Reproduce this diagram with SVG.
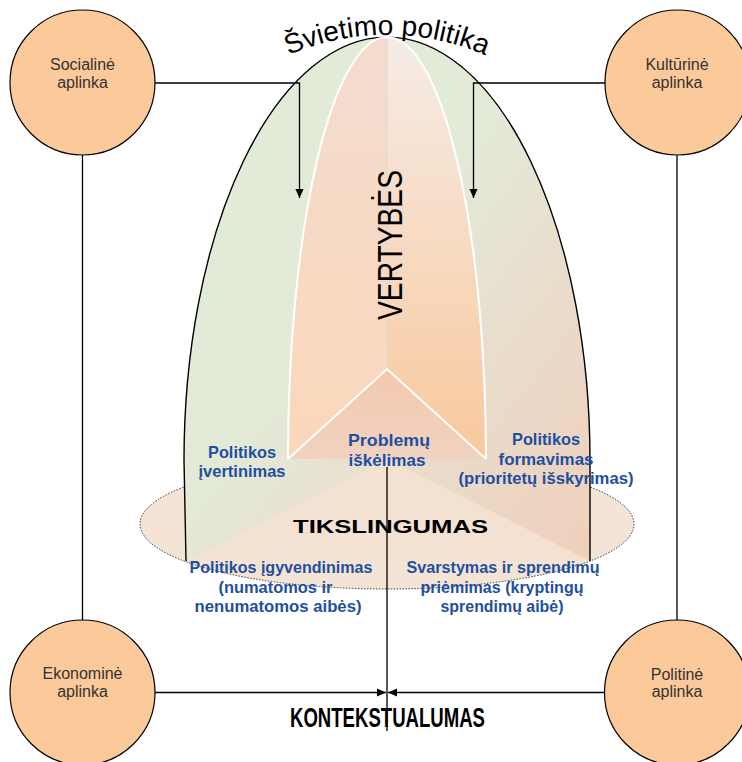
<svg xmlns="http://www.w3.org/2000/svg" width="742" height="762" viewBox="0 0 742 762">
  <style>
    .env { fill: #fbc99a; stroke: #000; stroke-width: 1.2; }
    .envText { font-family: "Liberation Sans", Arial, sans-serif; font-size: 16px; fill: #333; text-anchor: middle; }
    .link { fill: none; stroke: #000; stroke-width: 1.3; }
    .blue { font-family: "Liberation Sans", Arial, sans-serif; font-weight: bold; font-size: 16.5px; fill: #1f4f9f; text-anchor: middle; }
    .big { font-family: "Liberation Sans Narrow", "Liberation Sans", Arial, sans-serif; fill: #000; text-anchor: middle; }
  </style>
  <defs>
    <linearGradient id="outerFill" x1="0" y1="0" x2="1" y2="1">
      <stop offset="0" stop-color="#e0ecd8"/>
      <stop offset="0.45" stop-color="#e3eAd8"/>
      <stop offset="0.72" stop-color="#eadbca"/>
      <stop offset="1" stop-color="#f0cfbc"/>
    </linearGradient>
    <linearGradient id="leftFill" x1="0" y1="0" x2="0" y2="1">
      <stop offset="0" stop-color="#f3dccf"/>
      <stop offset="1" stop-color="#fbd7b9"/>
    </linearGradient>
    <linearGradient id="rightFill" x1="0" y1="0" x2="0" y2="1">
      <stop offset="0" stop-color="#f6ece6"/>
      <stop offset="1" stop-color="#f9c89d"/>
    </linearGradient>
    <linearGradient id="triFill" x1="0" y1="0" x2="0" y2="1">
      <stop offset="0" stop-color="#f3c9ae"/>
      <stop offset="1" stop-color="#f1d2c0"/>
    </linearGradient>
    <marker id="arrow" markerUnits="userSpaceOnUse" viewBox="0 0 10 10" markerWidth="9" markerHeight="9" refX="10" refY="5" orient="auto">
      <path d="M0,0.5 L10,5 L0,9.5 z" fill="#000"/>
    </marker>
    <path id="titleArc" d="M 173 158.5 A 247 247 0 0 1 601 158.5" fill="none"/>
  </defs>

  <!-- policy cone -->
  <g id="cone">
    <ellipse cx="387" cy="524" rx="247" ry="65" fill="#f4e4d6" stroke="#333" stroke-width="1" stroke-dasharray="1.5,1.5"/>
    <path d="M 186 561 L 184 460 A 203 423 0 0 1 590 460 L 590 561 Z" fill="url(#outerFill)"/>
    <polygon points="387,459 590,561 186,561" fill="#f4e2d3" opacity="0.9"/>
    <path d="M 186 561 L 184 460 A 203 423 0 0 1 590 460 L 590 561" fill="none" stroke="#000" stroke-width="1.4"/>
    <path d="M 387 37 A 99 422 0 0 0 288 459 L 387 369 Z" fill="url(#leftFill)"/>
    <path d="M 387 37 A 99 422 0 0 1 486 459 L 387 369 Z" fill="url(#rightFill)"/>
    <line x1="387" y1="40" x2="387" y2="369" stroke="#e6dacd" stroke-width="1.5"/>
    <polygon points="387,369 288,459 486,459" fill="url(#triFill)"/>
    <path d="M 288 459 A 99 422 0 0 1 486 459" fill="none" stroke="#fff" stroke-width="2"/>
    <path d="M 288 459 L 387 369 L 486 459" fill="none" stroke="#fff" stroke-width="2"/>
  </g>

  <!-- connectors -->
  <g id="connectors">
    <path class="link" d="M 155 83 H 299.5 V 198" marker-end="url(#arrow)"/>
    <path class="link" d="M 605 83 H 473.5 V 198" marker-end="url(#arrow)"/>
    <path class="link" d="M 82.5 155 V 620"/>
    <path class="link" d="M 677 155 V 620"/>
    <path class="link" d="M 155 692.5 H 386" marker-end="url(#arrow)"/>
    <path class="link" d="M 604 692.5 H 388" marker-end="url(#arrow)"/>
    <path class="link" d="M 387 467 V 731"/>
  </g>

  <!-- environments -->
  <g id="social">
    <circle class="env" cx="82.5" cy="82.5" r="72.5"/>
    <text class="envText" x="82.5" y="70">Socialinė</text>
    <text class="envText" x="82.5" y="88">aplinka</text>
  </g>
  <g id="cultural">
    <circle class="env" cx="677.5" cy="82.5" r="72.5"/>
    <text class="envText" x="677" y="70">Kultūrinė</text>
    <text class="envText" x="677" y="88">aplinka</text>
  </g>
  <g id="economic">
    <circle class="env" cx="82.5" cy="692.5" r="72.5"/>
    <text class="envText" x="82.5" y="679">Ekonominė</text>
    <text class="envText" x="82.5" y="697">aplinka</text>
  </g>
  <g id="political">
    <circle class="env" cx="677" cy="692.5" r="72.5"/>
    <text class="envText" x="677" y="680">Politinė</text>
    <text class="envText" x="677" y="697">aplinka</text>
  </g>

  <!-- headings -->
  <g id="title">
    <text font-family="Liberation Sans, Arial, sans-serif" font-size="28" fill="#000"><textPath href="#titleArc" startOffset="50%" text-anchor="middle">Švietimo politika</textPath></text>
  </g>
  <g id="values">
    <text class="big" font-size="35" transform="translate(402,245) rotate(-90)" x="0" y="0" textLength="150" lengthAdjust="spacingAndGlyphs">VERTYBĖS</text>
  </g>
  <g id="purpose">
    <text class="big" font-family="Liberation Sans, Arial, sans-serif" font-weight="bold" font-size="19" x="390.5" y="533" textLength="195" lengthAdjust="spacingAndGlyphs">TIKSLINGUMAS</text>
  </g>
  <g id="context">
    <text class="big" font-weight="bold" font-size="27" x="387.5" y="727" textLength="195" lengthAdjust="spacingAndGlyphs">KONTEKSTUALUMAS</text>
  </g>

  <!-- policy stages -->
  <g id="evaluation">
    <text class="blue" x="242" y="458" textLength="68" lengthAdjust="spacingAndGlyphs">Politikos</text>
    <text class="blue" x="242" y="477" textLength="87" lengthAdjust="spacingAndGlyphs">įvertinimas</text>
  </g>
  <g id="problem">
    <text class="blue" x="389" y="446" textLength="82" lengthAdjust="spacingAndGlyphs">Problemų</text>
    <text class="blue" x="387" y="466" textLength="77" lengthAdjust="spacingAndGlyphs">iškėlimas</text>
  </g>
  <g id="formation">
    <text class="blue" x="546" y="445" textLength="68" lengthAdjust="spacingAndGlyphs">Politikos</text>
    <text class="blue" x="546" y="465" textLength="95" lengthAdjust="spacingAndGlyphs">formavimas</text>
    <text class="blue" x="546" y="484" textLength="175" lengthAdjust="spacingAndGlyphs">(prioritetų išskyrimas)</text>
  </g>
  <g id="implementation">
    <text class="blue" x="281" y="573" textLength="183" lengthAdjust="spacingAndGlyphs">Politikos įgyvendinimas</text>
    <text class="blue" x="275.5" y="593" textLength="114" lengthAdjust="spacingAndGlyphs">(numatomos ir</text>
    <text class="blue" x="278" y="612" textLength="167" lengthAdjust="spacingAndGlyphs">nenumatomos aibės)</text>
  </g>
  <g id="decision">
    <text class="blue" x="503" y="573" textLength="193" lengthAdjust="spacingAndGlyphs">Svarstymas ir sprendimų</text>
    <text class="blue" x="502" y="593" textLength="163" lengthAdjust="spacingAndGlyphs">priėmimas (kryptingų</text>
    <text class="blue" x="502" y="612" textLength="123" lengthAdjust="spacingAndGlyphs">sprendimų aibė)</text>
  </g>
</svg>
